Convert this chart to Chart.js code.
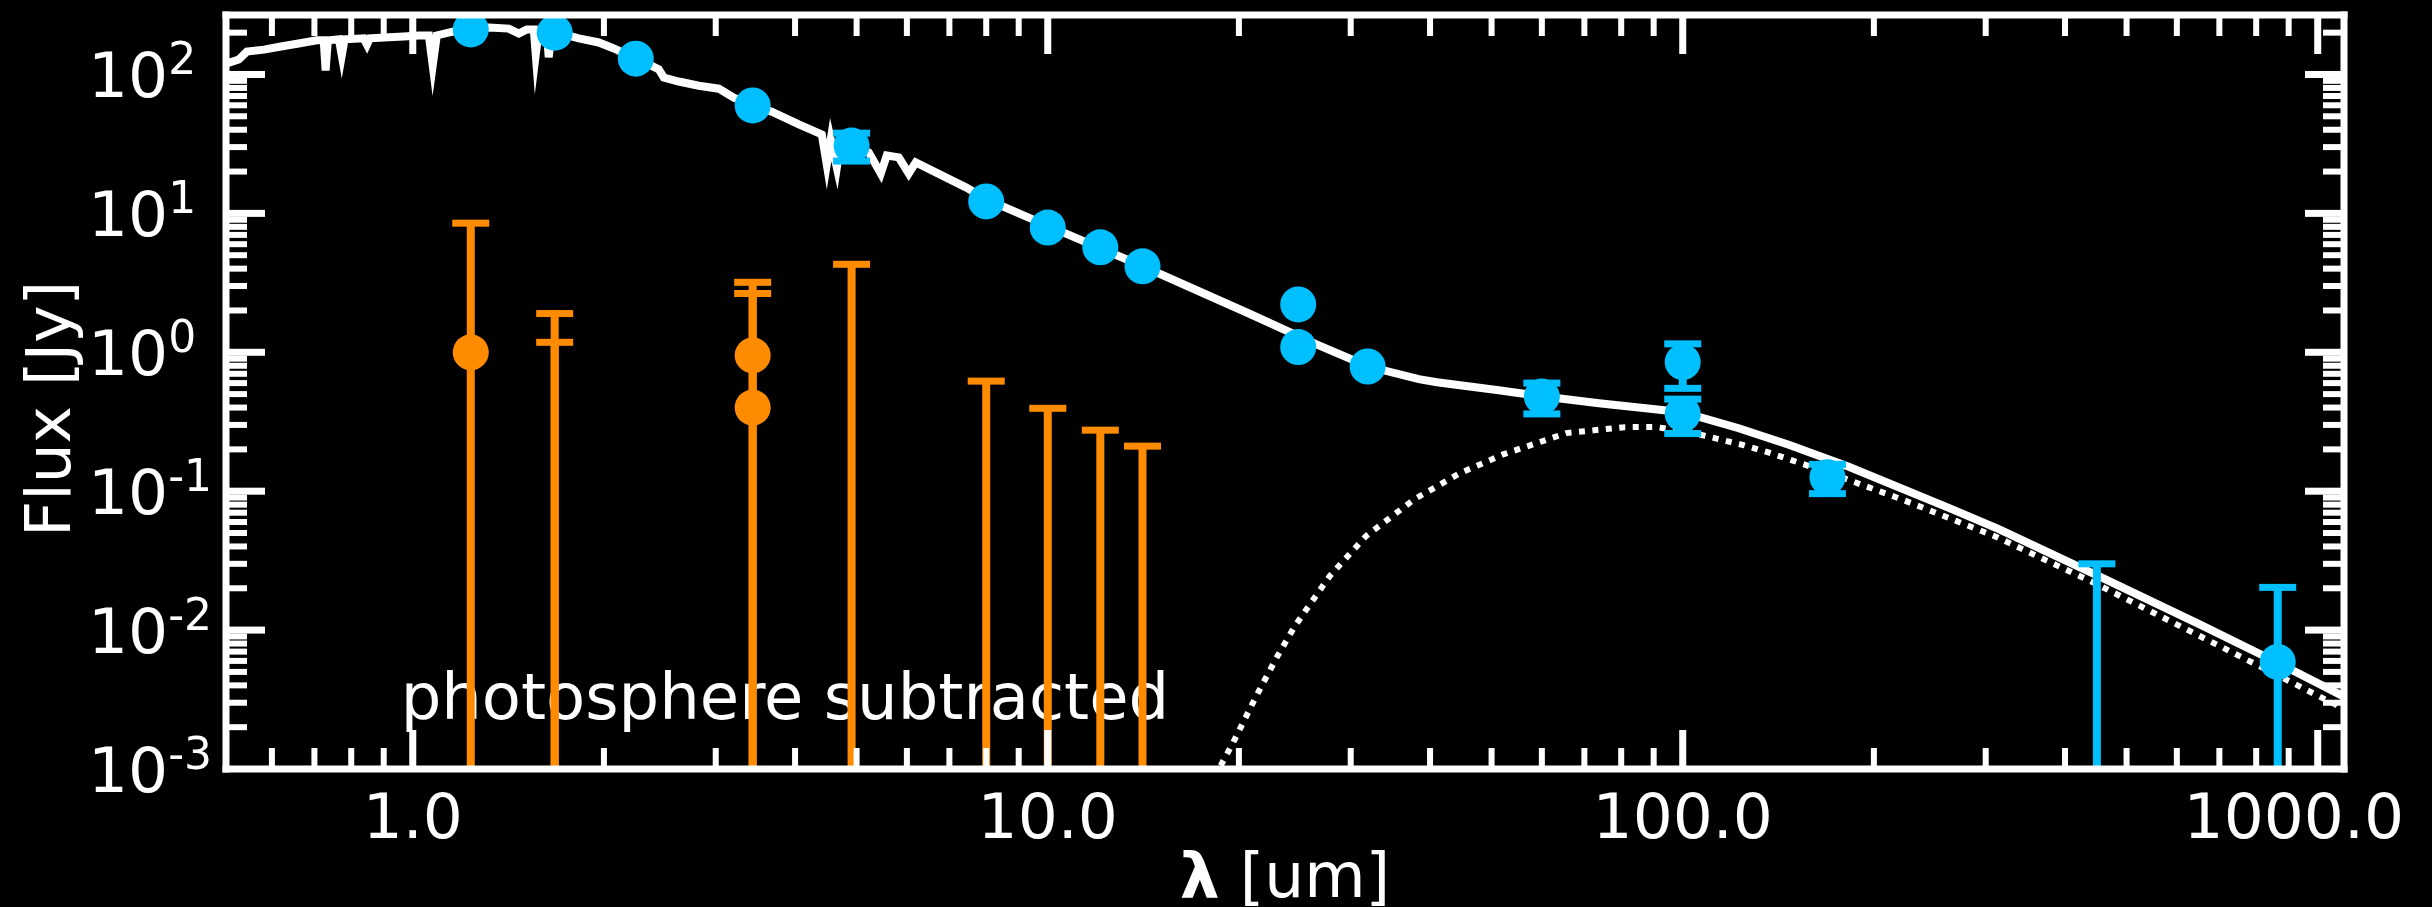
<!DOCTYPE html>
<html>
<head>
<meta charset="utf-8">
<script src="https://cdn.jsdelivr.net/npm/chart.js@4.4.1/dist/chart.umd.min.js"></script>
<style>
  html, body { margin: 0; padding: 0; background: #000; }
  canvas { display: block; }
</style>
</head>
<body>
<canvas id="sed" width="2432" height="907"></canvas>
<script>
const FONT = '"DejaVu Sans"';
const WHITE = '#ffffff';
const BLUE = '#00bfff';
const ORANGE = '#ff8c00';

// observed photometry [um, Jy]
const blueLam  = [1.234, 1.673, 2.245, 3.43, 4.91, 8.0, 10.0, 12.1, 14.1, 24.8, 24.8, 31.9, 60.0, 100, 100, 169, 449, 865];
const blueFlux = [211, 200, 130, 59.8, 30.8, 12.2, 7.9, 5.7, 4.16, 2.21, 1.09, 0.79, 0.48, 0.85, 0.36, 0.126, 0, 0.0059];
const blueErr  = [0, 0, 0, 0, 7, 0, 0, 0, 0, 0, 0, 0, 0.12, 0.3, 0.1, 0.03, 0.03, 0.0144];

// excess after the stellar model is removed
const orangeLam  = [1.234, 1.673, 1.673, 3.43, 3.43, 4.91, 8.0, 10.0, 12.1, 14.1];
const orangeFlux = [1.0, 0, 0, 0.95, 0.40, 0, 0, 0, 0, 0];
const orangeErr  = [7.5, 1.9, 1.18, 2.24, 2.25, 4.3, 0.62, 0.395, 0.275, 0.211];

// star + disk model spectrum
const modelLam = [0.509, 0.532, 0.548, 0.583, 0.620, 0.661, 0.706, 0.724, 0.729, 0.735,
  0.765, 0.773, 0.781, 0.837, 0.847, 0.856, 0.917, 0.968, 1.022, 1.060,
  1.075, 1.091, 1.160, 1.234, 1.317, 1.416, 1.469, 1.512, 1.551, 1.562,
  1.579, 1.626, 1.637, 1.655, 1.729, 1.826, 1.963, 2.073, 2.245, 2.353,
  2.440, 2.485, 2.624, 2.821, 3.033, 3.203, 3.43, 3.676, 4.055, 4.407,
  4.487, 4.552, 4.654, 4.721, 4.91, 5.225, 5.458, 5.578, 5.826, 6.04,
  6.196, 7.43, 8.015, 10.04, 14.11, 20.7, 26.5, 31.9, 38.4, 41.0,
  51.3, 60.0, 73.8, 100, 122.5, 146.9, 182.6, 262.4, 314.6, 452,
  649.4, 865, 1100];
const modelFlux = [120, 128, 146, 151, 159, 167, 176, 176, 107, 176,
  179, 137, 179, 182, 164, 182, 185, 188, 191, 191,
  116, 191, 204, 214, 218, 214, 197, 211, 211, 139,
  207, 207, 133, 204, 194, 182, 170, 154, 130, 118,
  109, 95, 89, 83, 79, 68, 60, 54, 43.7, 37,
  22.5, 34, 21.4, 33, 30.8, 27.5, 19.4, 26.1, 25.3, 19.4,
  23.3, 15.4, 12.6, 8.06, 4.16, 1.91, 1.14, 0.793, 0.64, 0.608,
  0.533, 0.483, 0.43, 0.37, 0.284, 0.216, 0.150, 0.0758, 0.0533, 0.0245,
  0.0111, 0.00582, 0.00332];

// cold dust blackbody
const diskLam  = [18.0, 18.6, 19.6, 21.3, 23.0, 24.5, 27.8, 31.7, 37.8, 44.6, 52.3, 65.6,
  81.1, 90.6, 103, 125, 136, 169, 221, 310, 447, 691, 1100];
const diskFlux = [0.0007, 0.001, 0.00156, 0.00335, 0.0065, 0.0107, 0.0245, 0.0475, 0.0876, 0.135, 0.185, 0.262,
  0.289, 0.290, 0.265, 0.214, 0.191, 0.137, 0.0875, 0.0474, 0.0216, 0.00793, 0.00271];

const xTickValues = [1, 10, 100, 1000];
const xTickLabels = ['1.0', '10.0', '100.0', '1000.0'];
const yTickValues = [1e-3, 1e-2, 1e-1, 1, 10, 100];
const yTickExponents = ['-3', '-2', '-1', '0', '1', '2'];

const noteText = 'photosphere subtracted';
const noteLam = 0.957;
const noteFlux = 0.0023;

function points(lam, flux) {
  return lam.map((x, i) => ({ x, y: flux[i] })).filter(p => p.y > 0);
}

// 1..9 x 10^n positions inside (min, max)
function logTicks(min, max) {
  const out = [];
  for (let e = Math.floor(Math.log10(min)); e <= Math.ceil(Math.log10(max)); e++) {
    for (let m = 1; m < 10; m++) {
      const v = m * Math.pow(10, e);
      if (v > min * 1.0001 && v < max * 0.9999) out.push({ v, major: m === 1 });
    }
  }
  return out;
}

const sedPlugin = {
  id: 'sedFrame',
  beforeDraw(chart) {
    const { ctx, width, height } = chart;
    ctx.save();
    ctx.fillStyle = '#000';
    ctx.fillRect(0, 0, width, height);
    ctx.restore();
  },
  beforeDatasetsDraw(chart) {
    const { ctx, scales: { x, y } } = chart;
    ctx.save();
    ctx.fillStyle = WHITE;
    ctx.font = '64px ' + FONT;
    ctx.textAlign = 'left';
    ctx.textBaseline = 'alphabetic';
    ctx.fillText(noteText, x.getPixelForValue(noteLam), y.getPixelForValue(noteFlux));
    ctx.restore();
  },
  // error bars go under the markers of their own series
  beforeDatasetDraw(chart, args) {
    const ds = chart.data.datasets[args.index];
    if (!ds.errors) return;
    const { ctx, chartArea: a, scales: { x, y } } = chart;
    const { lam, flux, err } = ds.errors;
    ctx.save();
    ctx.beginPath();
    ctx.rect(a.left, a.top, a.right - a.left, a.bottom - a.top);
    ctx.clip();
    ctx.fillStyle = ds.backgroundColor;
    lam.forEach((l, i) => {
      if (!err[i]) return;
      const px = x.getPixelForValue(l);
      const top = y.getPixelForValue(flux[i] + err[i]);
      const low = flux[i] - err[i];
      const bot = low > 0 ? y.getPixelForValue(low) : a.bottom + 60;
      ctx.fillRect(px - 4, top, 8, bot - top);
      ctx.fillRect(px - 18.5, top - 3.5, 37, 7);
      if (low > 0) ctx.fillRect(px - 18.5, bot - 3.5, 37, 7);
    });
    ctx.restore();
  },
  afterDatasetsDraw(chart) {
    const { ctx, chartArea: a, scales: { x, y } } = chart;
    const sw = 7;
    ctx.save();
    ctx.fillStyle = WHITE;
    // axes box
    ctx.fillRect(a.left - sw / 2, a.top - sw / 2, a.right - a.left + sw, sw);
    ctx.fillRect(a.left - sw / 2, a.bottom - sw / 2, a.right - a.left + sw, sw);
    ctx.fillRect(a.left - sw / 2, a.top - sw / 2, sw, a.bottom - a.top + sw);
    ctx.fillRect(a.right - sw / 2, a.top - sw / 2, sw, a.bottom - a.top + sw);
    // inward ticks on all four sides
    logTicks(x.min, x.max).forEach(t => {
      const px = x.getPixelForValue(t.v);
      const len = t.major ? 39 : 21;
      const w = t.major ? 7 : 6;
      ctx.fillRect(px - w / 2, a.bottom - len, w, len);
      ctx.fillRect(px - w / 2, a.top, w, len);
    });
    logTicks(y.min, y.max).forEach(t => {
      const py = y.getPixelForValue(t.v);
      const len = t.major ? 39 : 21;
      const w = t.major ? 7 : 6;
      ctx.fillRect(a.left, py - w / 2, len, w);
      ctx.fillRect(a.right - len, py - w / 2, len, w);
    });
    ctx.restore();
  },
  afterDraw(chart) {
    const { ctx, chartArea: a, scales: { x, y } } = chart;
    ctx.save();
    ctx.fillStyle = WHITE;
    ctx.textBaseline = 'alphabetic';

    // x tick labels, kept clear of the right canvas edge
    ctx.font = '63px ' + FONT;
    ctx.textAlign = 'center';
    xTickValues.forEach((v, i) => {
      const w = ctx.measureText(xTickLabels[i]).width;
      const px = Math.min(x.getPixelForValue(v), chart.width - 28 - w / 2);
      ctx.fillText(xTickLabels[i], px, 838);
    });

    ctx.textAlign = 'left';
    yTickValues.forEach((v, i) => {
      const py = y.getPixelForValue(v);
      ctx.font = '63px ' + FONT;
      ctx.fillText('10', 88, py + 23);
      const w = ctx.measureText('10').width;
      ctx.font = '44px ' + FONT;
      ctx.fillText(yTickExponents[i], 88 + w, py);
    });

    // x title: bold lambda + unit
    ctx.font = 'bold 63px ' + FONT;
    const wl = ctx.measureText('λ').width;
    ctx.font = '63px ' + FONT;
    const wu = ctx.measureText(' [um]').width;
    const x0 = (a.left + a.right) / 2 - (wl + wu) / 2;
    ctx.font = 'bold 63px ' + FONT;
    ctx.fillText('λ', x0, 897);
    ctx.font = '63px ' + FONT;
    ctx.fillText(' [um]', x0 + wl, 897);

    // y title
    ctx.translate(70, 409);
    ctx.rotate(-Math.PI / 2);
    ctx.textAlign = 'center';
    ctx.fillText('Flux [Jy]', 0, 0);
    ctx.restore();
  }
};

const ctx = document.getElementById('sed').getContext('2d');

const sedChart = new Chart(ctx, {
  type: 'scatter',
  data: {
    datasets: [
      {
        label: 'observed',
        data: points(blueLam, blueFlux),
        errors: { lam: blueLam, flux: blueFlux, err: blueErr },
        backgroundColor: BLUE,
        pointBackgroundColor: BLUE,
        pointRadius: 18,
        pointBorderWidth: 0,
        clip: 0,
        order: 0
      },
      {
        label: 'photosphere subtracted',
        data: points(orangeLam, orangeFlux),
        errors: { lam: orangeLam, flux: orangeFlux, err: orangeErr },
        backgroundColor: ORANGE,
        pointBackgroundColor: ORANGE,
        pointRadius: 18,
        pointBorderWidth: 0,
        clip: 0,
        order: 1
      },
      {
        label: 'model',
        data: points(modelLam, modelFlux),
        showLine: true,
        borderColor: WHITE,
        borderWidth: 8,
        pointRadius: 0,
        tension: 0,
        clip: 0,
        order: 3
      },
      {
        label: 'disk',
        data: points(diskLam, diskFlux),
        showLine: true,
        borderColor: WHITE,
        borderWidth: 6,
        borderDash: [6, 7.5],
        borderCapStyle: 'butt',
        pointRadius: 0,
        tension: 0,
        clip: 0,
        order: 4
      }
    ]
  },
  options: {
    responsive: false,
    devicePixelRatio: 1,
    animation: false,
    events: [],
    layout: {
      padding: { left: 0, top: 15, right: 88, bottom: 0 },
      autoPadding: false
    },
    plugins: {
      legend: { display: false },
      tooltip: { enabled: false }
    },
    scales: {
      x: {
        type: 'logarithmic',
        min: 0.508,
        max: 1100,
        ticks: { display: false },
        grid: { display: false },
        border: { display: false },
        afterFit: (scale) => { scale.height = 138; }
      },
      y: {
        type: 'logarithmic',
        min: 0.001,
        max: 268,
        ticks: { display: false },
        grid: { display: false },
        border: { display: false },
        afterFit: (scale) => { scale.width = 226; }
      }
    }
  },
  plugins: [sedPlugin]
});
</script>
</body>
</html>
